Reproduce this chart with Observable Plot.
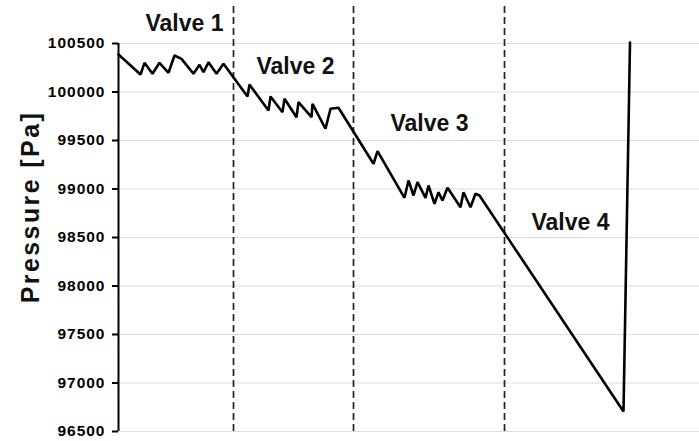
<!DOCTYPE html>
<html>
<head>
<meta charset="utf-8">
<script src="https://cdn.jsdelivr.net/npm/d3@7"></script>
<script src="https://cdn.jsdelivr.net/npm/@observablehq/plot@0.6"></script>
<style>
  html, body { margin: 0; padding: 0; background: #fff; }
  #chart svg { display: block; }
  #chart g[aria-label="y-axis tick label"] text { font-weight: bold; letter-spacing: 1px; }
</style>
</head>
<body>
<div id="chart"></div>
<script>
// Time (arbitrary units) and pressure [Pa]
const time = [0, 22, 26, 34, 41, 50, 56, 63, 75, 81, 85, 90, 98, 105,
  129, 131, 150, 152, 164, 166, 178, 180, 193, 194, 207, 212, 220,
  255, 259, 286, 290, 295, 299, 307, 310, 316, 320, 324, 329, 342, 345, 352, 357, 361,
  505, 511.5];
const pressure = [100387, 100180, 100301, 100188, 100301, 100198, 100376, 100342, 100188, 100280, 100204, 100307, 100188, 100291,
  99954, 100077, 99809, 99954, 99792, 99930, 99740, 99895, 99740, 99878, 99621, 99827, 99837,
  99260, 99390, 98909, 99088, 98933, 99070, 98909, 99036, 98847, 98967, 98881, 99012, 98812, 98967, 98812, 98951, 98933,
  96706, 100510];

// Valve boundaries (time) and labels
const valveEdges = [115, 235, 386];
const valveNames = ["Valve 1", "Valve 2", "Valve 3", "Valve 4"];
const valveLabelTime = [66, 177, 311, 452];
const valveLabelPressure = [100624, 100190, 99596, 98579];

const yTicks = [96500, 97000, 97500, 98000, 98500, 99000, 99500, 100000, 100500];
const yLabel = "Pressure [Pa]";

const series = time.map((t, i) => ({t, p: pressure[i]}));
const labels = valveNames.map((name, i) => ({name, t: valveLabelTime[i], p: valveLabelPressure[i]}));

const chart = Plot.plot({
  width: 699,
  height: 441,
  marginLeft: 118,
  marginRight: 0,
  marginTop: 43,
  marginBottom: 10,
  style: {fontFamily: "'Liberation Sans', Arial, sans-serif", background: "#fff", color: "#000"},
  x: {domain: [0, 581], axis: null},
  y: {domain: [96500, 100500], axis: null},
  marks: [
    Plot.gridY(yTicks, {stroke: "#dcdcdc", strokeOpacity: 1, strokeWidth: 1.2}),
    Plot.ruleX(valveEdges, {y1: 96500, y2: 100890, stroke: "#222", strokeWidth: 1.7, strokeDasharray: "7,4"}),
    Plot.line(series, {x: "t", y: "p", stroke: "#000", strokeWidth: 2.6, strokeLinejoin: "miter", curve: "linear"}),
    Plot.ruleX([0], {stroke: "#000", strokeWidth: 2}),
    Plot.axisY(yTicks, {tickSize: 6, tickPadding: 7, strokeWidth: 2, tickFormat: d => String(d), fontSize: 15.5, fontWeight: "bold", label: null}),
    Plot.text(labels, {x: "t", y: "p", text: "name", lineAnchor: "bottom", textAnchor: "middle", fontSize: 23, fontWeight: "bold", fill: "#111"})
  ]
});

d3.select(chart).append("text")
  .attr("transform", "translate(39,207) rotate(-90)")
  .attr("text-anchor", "middle")
  .attr("font-size", 25)
  .attr("font-weight", "bold")
  .attr("letter-spacing", "2.4px")
  .attr("fill", "#111")
  .text(yLabel);

document.getElementById("chart").appendChild(chart);
</script>
</body>
</html>
